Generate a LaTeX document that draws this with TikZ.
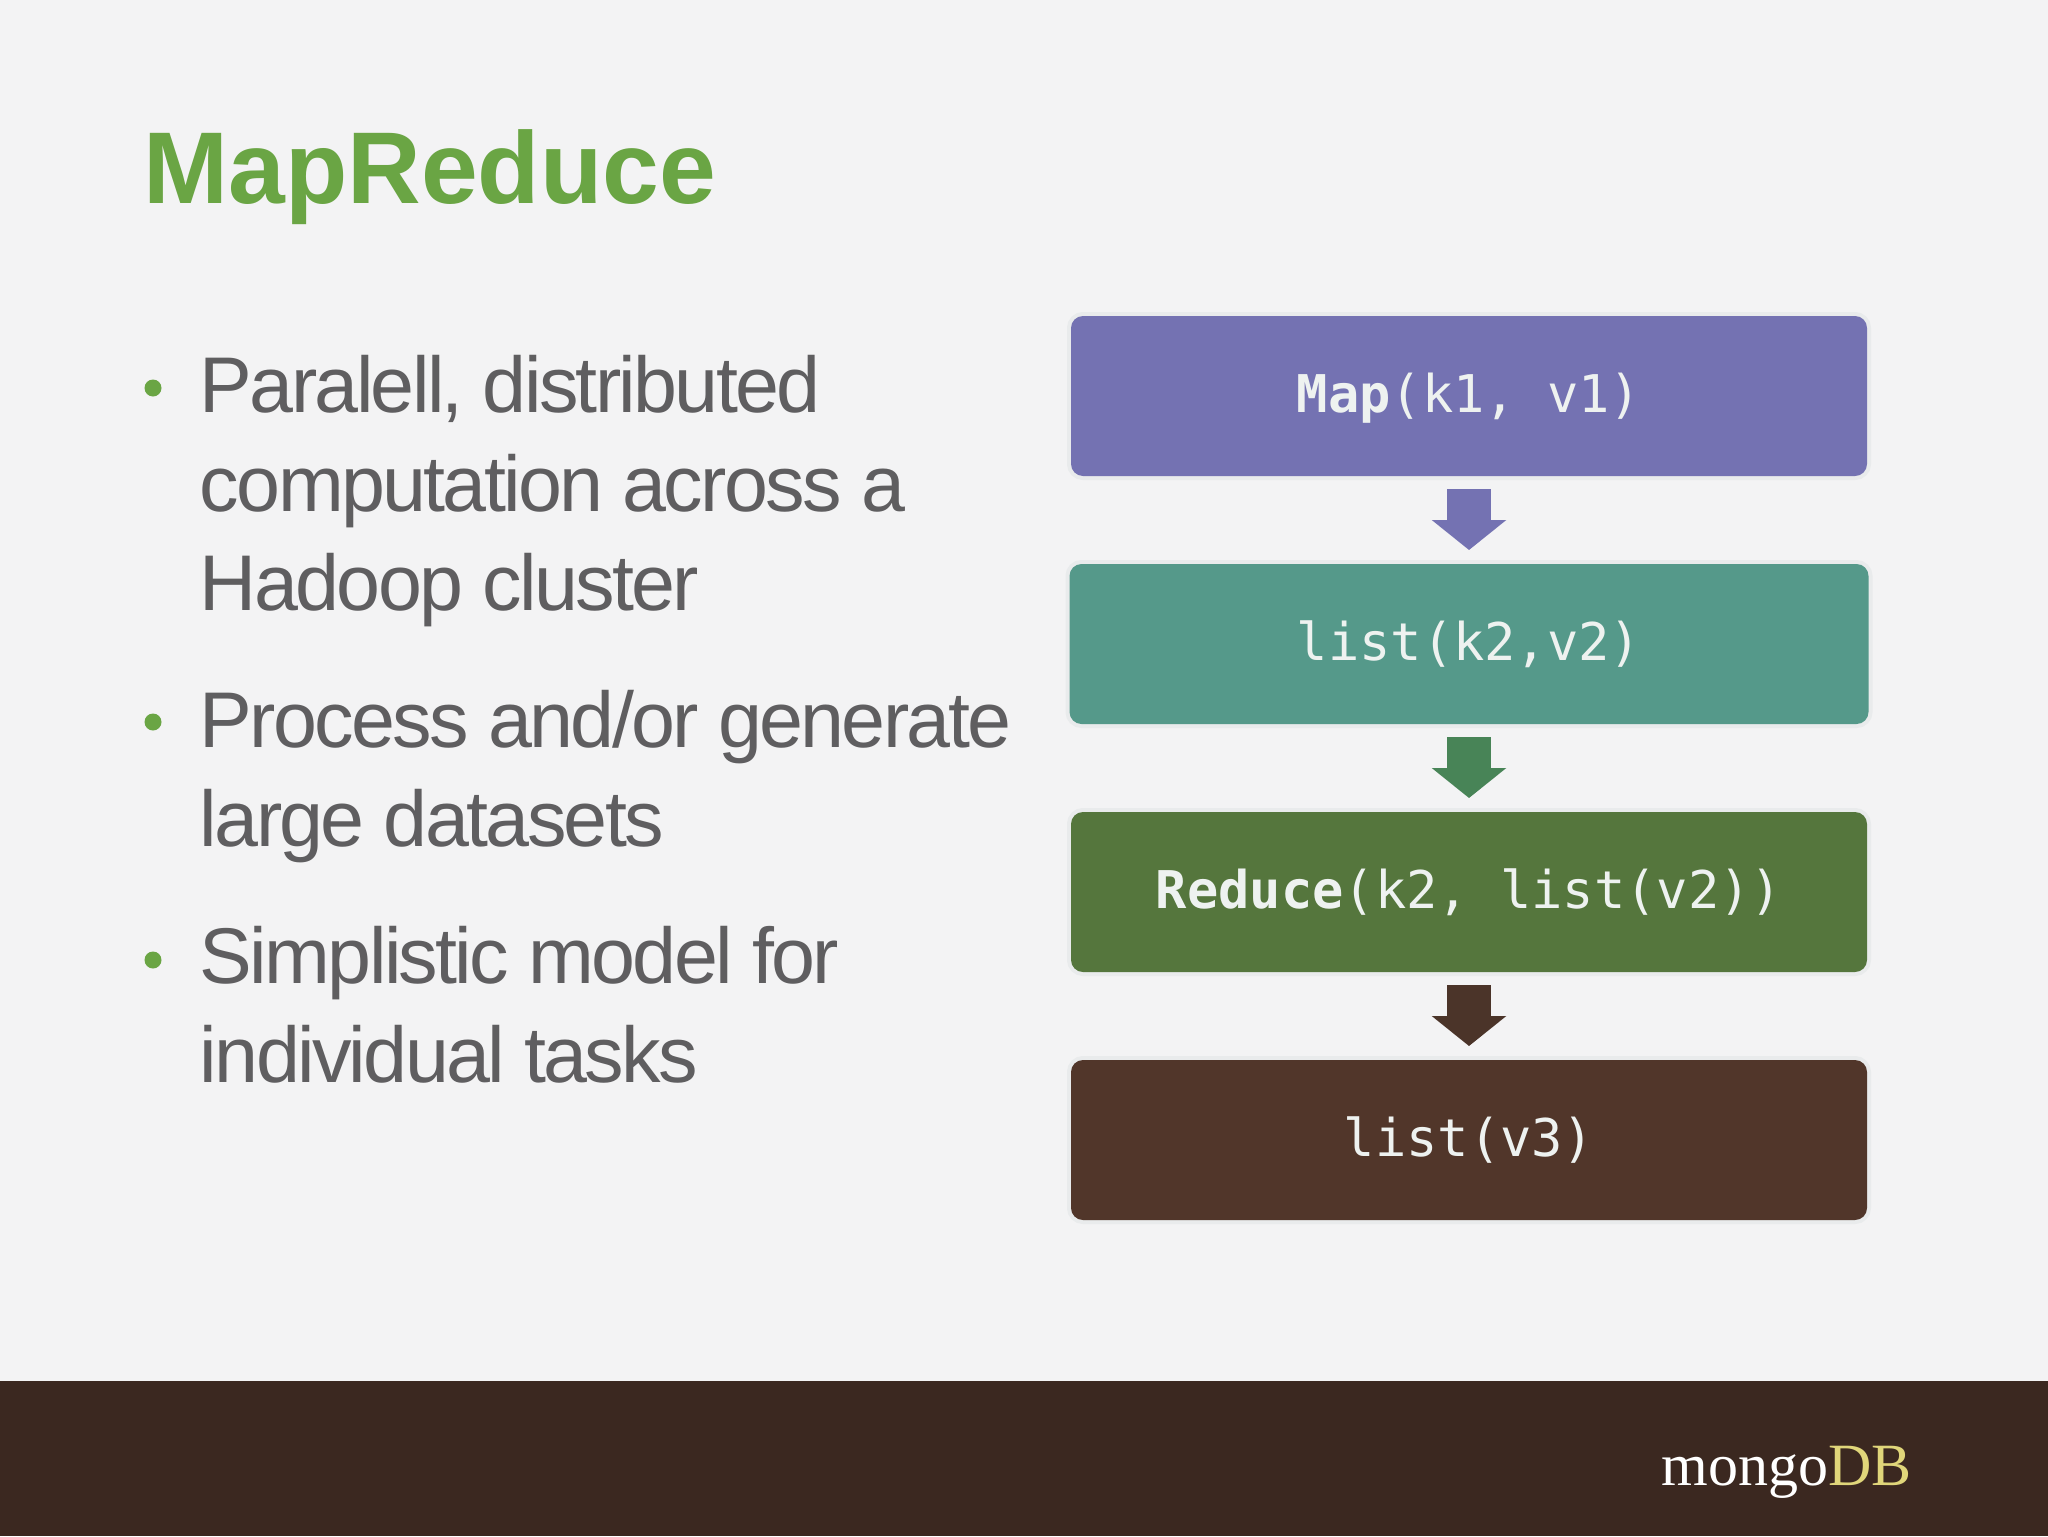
\documentclass[tikz,border=0pt]{standalone}
\usepackage{fontspec}
\usetikzlibrary{positioning,arrows.meta}
\setmainfont{Liberation Sans}
\setmonofont{DejaVu Sans Mono}
\newfontfamily\bodyfont[LetterSpace=-3.4]{Liberation Sans}
\newfontfamily\logofont{Liberation Serif}
\definecolor{pagebg}{HTML}{F3F3F4}
\definecolor{glowbg}{HTML}{E9EBEC}
\definecolor{footbg}{HTML}{3B2820}
\definecolor{titlegreen}{HTML}{6AA544}
\definecolor{bodygrey}{HTML}{5F5E60}
\definecolor{boxtext}{HTML}{EEF2F0}
\definecolor{mapblue}{HTML}{7472B2}
\definecolor{listteal}{HTML}{55998A}
\definecolor{arrowgreen}{HTML}{488457}
\definecolor{reducegreen}{HTML}{55763D}
\definecolor{endbrown}{HTML}{51362A}
\definecolor{arrowbrown}{HTML}{4B3429}
\definecolor{dbyellow}{HTML}{E0D67A}

\begin{document}
\begin{tikzpicture}[x=0.5pt, y=-0.5pt, node distance={44pt},
    stage/.style = {rounded corners=6pt, minimum width=398pt, minimum height=80pt, outer sep=0pt, inner sep=0pt, text=boxtext, text height=20pt, text depth=3.3pt, font=\fontsize{26}{30}\ttfamily, preaction={draw=glowbg, line width=4pt}},
    flow/.style = {line width=22pt, -{Triangle[length=15pt, width=36.5pt]}, shorten <=6.5pt, shorten >=7pt},
    bullet/.style = {circle, fill=titlegreen, minimum size=8.5pt, inner sep=0pt},
    point/.style = {anchor=base west, align=left, inner sep=0pt, text=bodygrey, font=\fontsize{39.5}{49.5}\bodyfont}]
        \fill[pagebg] (0,0) rectangle (2048,1536);
        \fill[footbg] (0,1381) rectangle (2048,1536);
        \useasboundingbox (0,0) rectangle (2048,1536);

        \node[anchor=base west, inner sep=0pt, text=titlegreen, font=\fontsize{51}{60}\bfseries] (title) at (143,203) {MapReduce};

        \node[bullet] (dot1) at (153,388) {};
        \node[bullet] (dot2) at (153,722) {};
        \node[bullet] (dot3) at (153,960) {};
        \node[point] (point1) at (199.5,610.5) {Paralell, distributed\\computation across a\\Hadoop cluster};
        \node[point] (point2) at (199.5,846.5) {Process and/or generate\\large datasets};
        \node[point] (point3) at (199.5,1082) {Simplistic model for\\individual tasks};

        \node[stage, fill=mapblue] (map) at (1469,396) {\textbf{Map}(k1, v1)};
        \node[stage, fill=listteal, minimum width=399.5pt] (pairs) [below = of map] {list(k2,v2)};
        \node[stage, fill=reducegreen] (reduce) [below = of pairs] {\textbf{Reduce}(k2, list(v2))};
        \node[stage, fill=endbrown] (result) [below = of reduce] {list(v3)};

        \draw[flow, mapblue] (map) -- (pairs);
        \draw[flow, arrowgreen] (pairs) -- (reduce);
        \draw[flow, arrowbrown] (reduce) -- (result);

        \node[anchor=base west, inner sep=0pt, font=\fontsize{30}{36}\logofont] (logo) at (1661,1485) {\textcolor{white}{mongo}\textcolor{dbyellow}{DB}};
\end{tikzpicture}
\end{document}
